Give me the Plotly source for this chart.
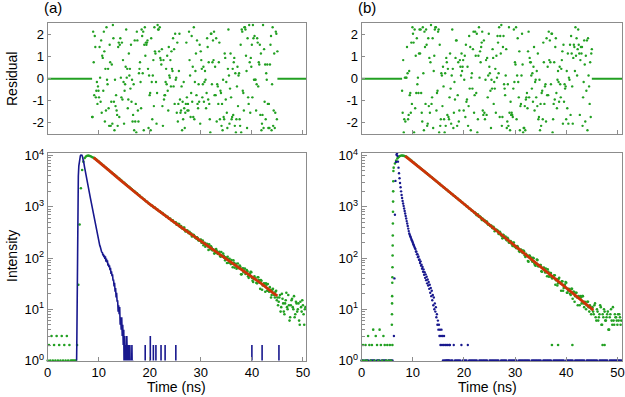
import numpy as np
import plotly.graph_objects as go

# ===================== DATA =====================
DT = 0.25  # spacing of the decay channels used here (ns)

# ---- panel (a): decay counts, t = 0, 0.25, 0.5 ... ----
green_a = [1, 2, 1, 3, 1, 2, 1, 3, 1, 2, 1, 3, 1, 2, 1, 3, 1, 2, 1, 1, 1, 1, 1,
           2, 30, 450, 2300, 5200, 7600, 8900, 9600, 9900, 9950, 9800, 9550, 9250, 9000,
           8690, 8350, 7910, 7620, 7200, 6910, 6550, 6290, 5950, 5710,
           5410, 5200, 4910, 4720, 4470, 4290, 4060, 3900, 3690, 3550,
           3350, 3220, 3050, 2930, 2770, 2665, 2515, 2420, 2285, 2200,
           2075, 2000, 1885, 1822, 1715, 1655, 1555, 1503, 1415, 1368,
           1283, 1246, 1168, 1131, 1066, 1043, 980, 961, 902, 885,
           828, 815, 760, 752, 698, 693, 641, 639, 590, 590,
           541, 545, 497, 496,
           447, 465, 458, 408, 384, 384, 395, 329, 345, 321, 324, 290, 264, 284, 267, 249, 255, 222, 225, 229,
           198, 178, 199, 181, 188, 144, 168, 169, 141, 144, 125, 149, 122, 126, 110, 131, 107, 111, 90, 99,
           106, 81, 82, 91, 66, 81, 75, 62, 78, 63, 67, 48, 63, 55, 49, 58, 44, 50, 54, 41,
           34, 44, 38, 32, 42, 33, 37, 24, 31, 29, 32, 23, 23, 27, 17, 24, 21, 17, 23, 17,
           14, 19, 11, 16, 9, 13, 21, 10, 12, 7, 15, 11, 18, 8, 13, 10, 6, 14, 9, 12, 5, 11]
green_a_extra_start = 25.125
green_a_extra = [492, 452, 450, 411, 419, 378, 389, 350, 338, 344, 305, 311, 299, 270, 281, 250, 238, 246, 219, 225,
                 198, 220, 196, 166, 190, 168, 186, 148, 158, 146, 122, 146, 136, 120, 132, 106, 111, 122, 100, 103,
                 80, 94, 96, 76, 79, 90, 65, 77, 65, 67, 71, 48, 61, 53, 62, 52, 55, 41, 49, 53,
                 36, 39, 40, 33, 42, 37, 25, 36, 29, 32, 22, 30, 31, 22, 24, 19, 25, 19, 22, 15,
                 12, 17, 9, 20, 13, 8, 15, 11, 19, 6, 12, 16, 10, 7, 14, 9, 13, 5, 11, 15, 8, 10]
fit_a_t = [9, 10, 12, 14, 16, 18, 20, 22, 24, 26, 28, 30, 32, 34, 36, 38, 40, 42, 44, 45]
fit_a = [9120, 7590, 5130, 3470, 2340, 1620, 1120, 794, 562, 407, 295, 214, 155, 112, 83, 60, 44, 31, 21.4, 18.2]
irf_a_start, irf_a_step = 5.5, 0.1
irf_a = [0, 0, 2, 150, 1500, 4000, 6300, 8000, 9200, 9900, 10200, 10300, 10100, 9600, 8900,
         8000, 7000, 6100, 5300, 4700, 4170, 3700, 3280, 2900, 2580, 2290, 2030, 1800, 1600, 1420,
         1260, 1110, 980, 870, 770, 660, 590, 520, 460, 405, 355, 320, 285, 255, 230,
         209, 190, 175, 165, 150, 145, 128, 131, 112, 120, 104, 112, 96, 108, 85, 97, 82, 90, 71, 78,
         66, 72, 58, 64, 49, 55, 44, 48, 36, 38, 28, 33, 22, 26, 17, 21, 14, 15, 9, 12,
         8, 11, 5, 7, 4, 7, 3, 5, 2, 4, 0, 3, 1, 2, 0, 3, 1, 0, 2, 0, 1, 2, 0, 1, 0, 2, 0, 1, 0]
irf_a_spike_t = [19.1, 20.1, 20.7, 21.2, 22.2, 23.0, 25.1, 40.0, 42.0, 45.3]
irf_a_spike_v = [2, 3, 2, 2, 2, 2, 2, 2, 2, 2]
res_a_window = (8.7, 45.0)
res_a = [-1.75, -1.75, 2.15, 0.75, -0.75, 1.95, 1.45, -0.85, -0.55, -0.15, -1.15, -0.35, -0.55, -0.85, 1.45, 0.05, -1.05, 1.75, -1.55, 1.05,
         0.95, -0.55, 2.15, 1.25, -1.95, 0.45, -1.45, 2.35, -0.05, -0.25, 0.45, -1.35, -2.15, 1.55, 0.75, -2.15, -1.05, 0.65, -2.05, 2.45,
         1.85, -1.05, -2.35, -0.05, -1.25, -0.75, -1.45, -1.65, -2.15, 1.45, 1.65, -1.75, 1.55, 1.85, 0.05, -0.85, 1.65, -0.95, 0.85, -0.15,
         -2.05, -0.55, -0.25, 0.55, 2.25, 0.05, 0.45, -1.35, -0.95, 1.15, 0.15, 0.45, -0.45, 1.55, -1.05, -0.05, -1.95, -1.65, -0.25, -2.35,
         1.75, -1.95, -1.15, -2.45, 2.15, 1.75, -1.45, -1.95, 0.25, 0.45, 0.75, -0.15, -1.35, 2.25, 1.95, 0.25, 2.15, -2.35, 1.55, 2.35,
         1.05, 1.65, 1.55, 1.65, 1.75, 0.45, -2.25, 0.15, -0.75, -0.65, -2.35, 1.85, -0.15, -1.85, 0.15, 0.85, -1.25, 2.35, 1.25, 1.15,
         -0.15, -2.05, -0.65, 2.45, 2.25, 2.25, 1.25, 2.35, 0.95, 0.85, 0.65, 1.35, -1.25, -2.15, 0.85, -0.95, -0.75, -0.75, -0.15, 0.45,
         -0.25, 1.05, -0.55, -1.45, 1.45, 0.15, 0.05, 0.85, -0.35, 1.25,
         0.45, 0.35, 1.85, -0.35, 1.35, -1.15, 2.05, -0.05, 0.05, -1.55, 1.65, -1.95, -1.15, 0.35, 2.05, -0.95, -1.55, -1.45, -0.35, -2.35,
         -1.05, -1.85, -0.15, -1.35, -2.25, -1.55, -1.15, 1.65, -0.85, -1.45, -1.15, -1.45, 2.15, 0.85, 0.15, -1.75, -0.65, 1.95, -1.05, 0.55,
         -1.75, 2.35, -1.85, -0.15, 0.35, 1.15, -0.75, 1.75, -1.15, -1.35,
         -0.25, -1.05, 1.55, -2.05, 1.25, 0.85, 0.45, -0.85, -0.25, 0.55, -1.05, -0.15, 0.35, -0.05, -1.35, -0.65, 1.85, 1.45, -0.95, 0.75,
         -1.15, -1.85, -2.45, 2.05, 2.05, -0.25, 0.75, 1.75, 0.85, 2.15, -0.75, 0.55, -0.75, 1.85, -1.95, -0.25, -0.35, -1.15, 0.75, 1.65,
         -1.85, -0.55, -0.65, -2.15, -1.15, -2.35, -0.05, -1.75, -1.85, 1.15,
         0.95, -0.95, -0.15, -1.55, -2.25, 0.45, 2.25, 0.15, -2.05, -0.45, 1.15, -0.85, -1.85, -1.75, 0.45, -1.65, 0.75, 0.95, -2.15, 0.25,
         -2.45, -1.85, -0.35, 0.55, -1.25, 0.15, 0.25, -1.85, -2.15, 1.55, -2.45, 2.25, 2.15, -0.55, -0.65, -1.45, 2.35, 2.35, 2.25, 1.05,
         0.35, -2.25, 1.85, -0.85, -1.15, 2.45, 0.75, -1.55, 0.95,
         0.55, 1.55, -0.85, 2.45, 1.85, -0.05, 1.95, -0.05, -0.05, -1.45, -0.25, 1.85, 1.65, -0.35, 0.75, 0.65, 1.55, -1.65, 1.15, -2.35,
         -2.05, -1.65, 2.45, -2.25, 1.35, -1.05, 0.65, -1.85, 0.25, -0.05, 0.65, -1.15, -2.25, -1.15, -2.25, 0.65, 1.55, 1.95, -2.35, -0.25,
         2.35, -2.15, -1.45, 1.15, -2.25, -1.55, 2.15, 2.05, -1.85, 1.25]

# ---- panel (b) ----
green_b = [1, 2, 1, 2, 1, 3, 2, 1, 2, 4, 1, 3, 2, 1, 4, 2, 1, 3, 2, 1, 2, 1, 2, 1,
           2,
           5800, 7000, 8000, 8800, 9400, 9800, 10000, 9950, 9850, 9650,
           9420, 9040, 8660, 8220, 7880, 7480, 7170, 6810, 6530, 6190,
           5940, 5630, 5410, 5130, 4920, 4660, 4480, 4240, 4075, 3860,
           3710, 3510, 3375, 3195, 3072, 2905, 2795, 2643, 2545, 2405,
           2316, 2186, 2110, 1988, 1920, 1808, 1748, 1645, 1592, 1496,
           1449, 1360, 1318, 1238, 1200, 1126, 1092, 1024, 995, 930,
           905, 846, 825, 770,
           753, 685, 703, 638, 630, 554, 562, 549, 500, 510, 445, 441, 432, 392, 406,
           333, 355, 345, 298, 325, 282, 242, 280, 251, 229, 249, 202, 213, 206, 171, 201, 170, 155, 168, 137, 143, 143, 125, 135,
           105, 114, 87, 112, 103, 90, 101, 78, 71, 93, 69, 72, 73, 54, 64, 57, 62, 44, 54, 46, 51, 40, 43, 46,
           37, 29, 39, 33, 23, 35, 26, 30, 33, 21, 25, 20, 25, 16, 22, 18, 21, 12, 17, 18, 13, 18, 11, 13, 12, 14, 9, 11, 10,
           9, 12, 7, 10, 6, 8, 11, 5, 7, 9, 6, 8, 4, 7, 10, 5, 6, 8, 7, 5, 6, 7, 6]
green_b_extra_start = 22.125
green_b_extra = [771, 712, 702, 648, 641, 589, 590, 531, 528, 512, 461, 460, 420, 425, 381, 389,
                 342, 356, 339, 293, 309, 268, 285, 245, 262, 221, 236, 198, 215, 183, 197, 168,
                 160, 172, 154, 132, 146, 130, 140, 113,
                 121, 108, 85, 111, 101, 85, 99, 73, 79, 91, 69, 73, 55, 64, 65, 52, 53, 60, 43, 51, 42, 43, 46, 30,
                 39, 32, 41, 32, 35, 23, 30, 34, 21, 23, 24, 19, 25, 22, 14, 21, 17, 18, 12, 17, 18, 13, 14, 10, 14, 11, 12, 8,
                 11, 8, 13, 6, 9, 7, 12, 5, 8, 10, 6, 7, 9, 4, 8, 6, 11, 5, 7, 6, 8, 8, 5]
green_b_rise_t = [5.90, 5.92, 5.94, 5.96, 5.98, 6.00, 6.02, 6.04, 6.06, 6.08, 6.10, 6.12, 6.14, 6.16, 6.18, 6.20]
green_b_rise = [5, 8, 13, 18, 33, 42, 66, 112, 175, 275, 470, 800, 1260, 2000, 3150, 5000]
green_b_low_t = [37.2, 38.4, 41.2, 47.1, 47.5]
green_b_low = [2, 2, 2, 2, 2]
fit_b_t = [8.5, 10, 12, 14, 16, 18, 20, 22, 24, 26, 28, 30, 32, 34, 36, 38, 40, 42, 44, 45.3]
fit_b = [9750, 7500, 5150, 3520, 2410, 1650, 1130, 775, 530, 363, 248, 170, 116, 80, 55, 37.5, 25.7, 17.6, 12.0, 9.6]
blue_b_pre = [1, 1, 0, 1, 1, 1, 0, 1, 1, 1, 1, 0, 1, 1, 1, 0, 1, 1, 1, 1, 0, 1, 1, 1, 1, 0]
irf_b_start, irf_b_step = 6.3, 0.1
irf_b = [3, 40, 700, 3200, 7500, 10300, 11000, 9800, 7600, 5800, 4500, 3600, 2900, 2400, 2000, 1700, 1480,
         1300, 1160, 1040, 925, 825, 740, 660, 590, 525, 470, 420, 375, 335, 300,
         283, 266, 251, 236, 223, 210, 198, 186, 175, 165, 156,
         150, 134, 133, 118, 119, 104, 107, 92, 94, 80, 86, 71, 74, 62, 67, 54, 60, 47, 53, 41, 48, 37, 43,
         32, 38, 29, 34, 25, 30, 21, 26, 18, 23, 15, 19, 12, 17, 10, 13, 9, 11, 7, 8, 5, 6,
         4, 5, 3, 4, 2, 3, 4, 2, 3, 1, 2, 3, 1, 2, 1, 2, 1, 1, 2, 1, 1, 2, 1]
blue_b_tail_start = 17.25
blue_b_tail = [2, 1, 1, 2, 1, 1, 1, 1, 1, 2, 1, 1, 1, 1, 2, 1, 1, 1, 1, 1,
               1, 1, 0, 1, 1, 1, 1, 1, 1, 1, 0, 1, 1, 1, 1, 1, 1, 1, 1, 0,
               1, 1, 1, 1, 1, 0, 1, 1, 1, 1, 1, 1, 1, 0, 1, 1, 1, 1, 1, 1,
               1, 1, 1, 0, 1, 1, 1, 1, 1, 1, 1, 1, 0, 1, 1, 1, 1, 1, 1, 1,
               0, 1, 1, 1, 1, 1, 1, 1, 1, 1, 0, 1, 1, 1, 1, 1, 1, 0, 1, 1,
               1, 1, 1, 1, 1, 1, 0, 1, 1, 1, 1, 1, 1, 1, 1, 1, 0, 1, 1, 1,
               1, 1, 1, 1, 0, 1, 1, 1, 1, 1, 1, 1, 1, 1, 1]
res_b_window = (7.9, 45.0)
res_b = [-0.55, -1.55, 0.85, -2.45, -1.85, 0.05, -1.95, 0.05, 0.05, 1.45, 0.25, -1.85, -1.65, 0.35, -0.75, -0.65, -1.55, 1.65, -1.15, 2.35,
         2.05, 1.65, -2.45, 2.25, -1.35, 1.05, -0.65, 1.85, -0.25, 0.05, -0.65, 1.15, 2.25, 1.15, 2.25, -0.65, -1.55, -1.95, 2.35, 0.25,
         -2.35, 2.15, 1.45, -1.15, 2.25, 1.55, -2.15, -2.05, 1.85, -1.25,
         0.95, -1.55, 0.75, 2.45, -1.15, -0.85, 1.85, -2.25, 0.35, 1.05, 2.25, 2.35, 2.35, -1.45, -0.65, -0.55, 2.15, 2.25, -2.45, 1.55,
         -2.15, -1.85, 0.25, 0.15, -1.25, 0.55, -0.35, -1.85, -2.45, 0.25, -2.15, 0.95, 0.75, -1.65, 0.45, -1.75, -1.85, -0.85, 1.15, -0.45,
         -2.05, 0.15, 2.25, 0.45, -2.25, -1.55, -0.15, -0.95, 0.95,
         1.75, 1.75, -2.15, -0.75, 0.75, -1.95, -1.45, 0.85, 0.55, 0.15, 1.15, 0.35, 0.55, 0.85, -1.45, -0.05, 1.05, -1.75, 1.55, -1.05,
         -0.95, 0.55, -2.15, -1.25, 1.95, -0.45, 1.45, -2.35, 0.05, 0.25, -0.45, 1.35, 2.15, -1.55, -0.75, 2.15, 1.05, -0.65, 2.05, -2.45,
         -1.85, 1.05, 2.35, 0.05, 1.25, 0.75, 1.45, 1.65, 2.15, -1.45, -1.65, 1.75, -1.55, -1.85, -0.05, 0.85, -1.65, 0.95, -0.85, 0.15,
         2.05, 0.55, 0.25, -0.55, -2.25, -0.05, -0.45, 1.35, 0.95, -1.15, -0.15, -0.45, 0.45, -1.55, 1.05, 0.05, 1.95, 1.65, 0.25, 2.35,
         -1.75, 1.95, 1.15, 2.45, -2.15, -1.75, 1.45, 1.95, -0.25, -0.45, -0.75, 0.15, 1.35, -2.25, -1.95, -0.25, -2.15, 2.35, -1.55, -2.35,
         -1.05, -1.65, -1.55, -1.65, -1.75, -0.45, 2.25, -0.15, 0.75, 0.65, 2.35, -1.85, 0.15, 1.85, -0.15, -0.85, 1.25, -2.35, -1.25, -1.15,
         0.15, 2.05, 0.65, -2.45, -2.25, -2.25, -1.25, -2.35, -0.95, -0.85, -0.65, -1.35, 1.25, 2.15, -0.85, 0.95, 0.75, 0.75, 0.15, -0.45,
         0.25, -1.05, 0.55, 1.45, -1.45, -0.15, -0.05, -0.85, 0.35, -1.25,
         1.15, -1.85, -1.75, -0.05, -2.35, -1.15, -2.15, -0.65, -0.55, -1.85, 1.65, 0.75, -1.15, -0.35, -0.25, -1.95, 1.85, -0.75, 0.55, -0.75,
         2.15, 0.85, 1.75, 0.75, -0.25, 2.05, 2.05, -2.45, -1.85, -1.15, 0.75, -0.95, 1.45, 1.85, -0.65, -1.35, -0.05, 0.35, -0.15, -1.05,
         0.55, -0.25, -0.85, 0.45, 0.85, 1.25, -2.05, 1.55, -1.05, -0.25,
         -0.45, -0.35, -1.85, 0.35, -1.35, 1.15, -2.05, 0.05, -0.05, 1.55, -1.65, 1.95, 1.15, -0.35, -2.05, 0.95, 1.55, 1.45, 0.35, 2.35,
         1.05, 1.85, 0.15, 1.35, 2.25, 1.55, 1.15, -1.65, 0.85, 1.45, 1.15, 1.45, -2.15, -0.85, -0.15, 1.75, 0.65, -1.95, 1.05, -0.55,
         1.75, -2.35, 1.85, 0.15, -0.35, -1.15, 0.75, -1.75, 1.15, 1.35]

residual_ticks = [-2, -1, 0, 1, 2]
residual_ticktext = ["-2", "-1", "0", "1", "2"]
intensity_ticks = [1, 10, 100, 1000, 10000]
intensity_ticktext = ["10<sup>0</sup>", "10<sup>1</sup>", "10<sup>2</sup>", "10<sup>3</sup>", "10<sup>4</sup>"]
time_ticks = [0, 10, 20, 30, 40, 50]

# ===================== STYLE =====================
GREEN = "#22a022"
BLUE = "#18188e"
RED = "#cc3308"
FRAME = "#8c8c8c"
FONT = "Liberation Sans, Arial, sans-serif"
W, H = 625, 397
XR = {"a": [0, 50.6], "b": [0, 50.9]}


def grid(start, step, n):
    return start + step * np.arange(n)


fig = go.Figure()
AX = {"a": ("x", "y", "x3", "y3"), "b": ("x2", "y2", "x4", "y4")}


def dots(x, y, xa, ya, color, size=2.6, clip=False, positive=True):
    x = np.asarray(x, float)
    y = np.asarray(y, float)
    m = y > 0 if positive else np.ones(len(y), bool)
    fig.add_trace(go.Scatter(x=x[m], y=y[m], xaxis=xa, yaxis=ya, mode="markers",
                             marker=dict(color=color, size=size, line=dict(width=0)),
                             cliponaxis=clip, showlegend=False, hoverinfo="skip"))


def line(x, y, xa, ya, color, width):
    fig.add_trace(go.Scatter(x=x, y=y, xaxis=xa, yaxis=ya, mode="lines",
                             line=dict(color=color, width=width),
                             cliponaxis=True, showlegend=False, hoverinfo="skip", connectgaps=False))


FLOOR = 0.3  # zero counts drawn just below the log axis

for key, res, win in (("a", res_a, res_a_window), ("b", res_b, res_b_window)):
    xt, yt, xb, yb = AX[key]
    line([XR[key][0], win[0]], [0, 0], xt, yt, GREEN, 2)
    line([win[1], XR[key][1]], [0, 0], xt, yt, GREEN, 2)
    dots(np.linspace(win[0], win[1], len(res)), res, xt, yt, GREEN, size=2.4, clip=True, positive=False)

# ---- decay panel (a) ----
xt, yt, xb, yb = AX["a"]
dots(grid(0, DT, len(green_a)), green_a, xb, yb, GREEN)
dots(grid(green_a_extra_start, DT, len(green_a_extra)), green_a_extra, xb, yb, GREEN)
ia = np.asarray(irf_a, float)
ix = list(grid(irf_a_start, irf_a_step, len(ia)))
iy = list(np.where(ia > 0, ia, FLOOR))
for t, v in zip(irf_a_spike_t, irf_a_spike_v):
    ix += [None, t, t]
    iy += [None, FLOOR, v]
line(ix, iy, xb, yb, BLUE, 1.6)
line(fit_a_t, fit_a, xb, yb, RED, 2.8)

# ---- decay panel (b) ----
xt, yt, xb, yb = AX["b"]
dots(grid(0, DT, len(blue_b_pre)), blue_b_pre, xb, yb, BLUE)
dots(grid(0, DT, len(green_b)), green_b, xb, yb, GREEN)
dots(grid(green_b_extra_start, DT, len(green_b_extra)), green_b_extra, xb, yb, GREEN)
dots(green_b_rise_t, green_b_rise, xb, yb, GREEN)
dots(green_b_low_t, green_b_low, xb, yb, GREEN)
dots(grid(irf_b_start, irf_b_step, len(irf_b)), irf_b, xb, yb, BLUE, size=2.4)
dots(grid(blue_b_tail_start, DT, len(blue_b_tail)), blue_b_tail, xb, yb, BLUE, size=2.4)
line(fit_b_t, fit_b, xb, yb, RED, 2.8)

# ===================== AXES / LAYOUT =====================
tickfont = dict(size=13, color="black", family=FONT)
dom_x = {"a": [47.7 / W, 306.0 / W], "b": [361.7 / W, 622.0 / W]}
dom_top = [1 - 133.5 / H, 1 - 23.3 / H]
dom_bot = [1 - 360.5 / H, 1 - 152.7 / H]

minor_vals = [k * 10 ** d for d in range(4) for k in range(2, 10)]


def xaxis(key, labels, anchor):
    return dict(domain=dom_x[key], range=XR[key], anchor=anchor, autorange=False, automargin=False,
                showgrid=False, zeroline=False,
                showline=True, linecolor=FRAME, linewidth=1, mirror=True,
                ticks="inside", ticklen=4, tickcolor=FRAME, tickmode="array", tickvals=time_ticks,
                showticklabels=labels, tickfont=tickfont, ticklabeloverflow="allow")


def yres(anchor):
    return dict(domain=dom_top, range=[-2.5, 2.53], anchor=anchor, autorange=False, automargin=False,
                showgrid=False, zeroline=False,
                showline=True, linecolor=FRAME, linewidth=1, mirror=True,
                ticks="inside", ticklen=3, tickcolor=FRAME, tickmode="array",
                tickvals=residual_ticks, ticktext=residual_ticktext, tickfont=tickfont,
                ticklabeloverflow="allow")


def ylog(anchor):
    return dict(domain=dom_bot, type="log", range=[0, 4.055], anchor=anchor, autorange=False,
                automargin=False, showgrid=False,
                zeroline=False, showline=True, linecolor=FRAME, linewidth=1, mirror=True,
                ticks="inside", ticklen=5, tickcolor=FRAME, tickmode="array",
                tickvals=intensity_ticks, ticktext=intensity_ticktext, tickfont=tickfont,
                ticklabeloverflow="allow",
                minor=dict(tickmode="array", tickvals=minor_vals, ticks="inside", ticklen=3,
                           tickcolor=FRAME, showgrid=False))


ann_font = dict(size=14, color="black", family=FONT)
annotations = [
    dict(text="(a)", x=53 / W, y=1 - 8 / H, font=dict(size=15, color="black", family=FONT)),
    dict(text="(b)", x=367 / W, y=1 - 8 / H, font=dict(size=15, color="black", family=FONT)),
    dict(text="Residual", x=12 / W, y=1 - 79 / H, textangle=-90, font=ann_font),
    dict(text="Intensity", x=12 / W, y=1 - 256 / H, textangle=-90, font=ann_font),
    dict(text="Time (ns)", x=176 / W, y=1 - 387 / H, font=ann_font),
    dict(text="Time (ns)", x=487 / W, y=1 - 387 / H, font=ann_font),
]
for a in annotations:
    a.update(xref="paper", yref="paper", xanchor="center", yanchor="middle", showarrow=False)

fig.update_layout(
    template="none",
    width=W, height=H, margin=dict(l=0, r=0, t=0, b=0, pad=0, autoexpand=False),
    paper_bgcolor="white", plot_bgcolor="white", showlegend=False,
    font=dict(family=FONT, color="black"),
    xaxis=xaxis("a", False, "y"), yaxis=yres("x"),
    xaxis2=xaxis("b", False, "y2"), yaxis2=yres("x2"),
    xaxis3=xaxis("a", True, "y3"), yaxis3=ylog("x3"),
    xaxis4=xaxis("b", True, "y4"), yaxis4=ylog("x4"),
    annotations=annotations,
)

fig.write_html("out.html", config={"displayModeBar": False, "staticPlot": True},
               post_script="document.body.style.margin='0px';document.body.style.overflow='hidden';")
